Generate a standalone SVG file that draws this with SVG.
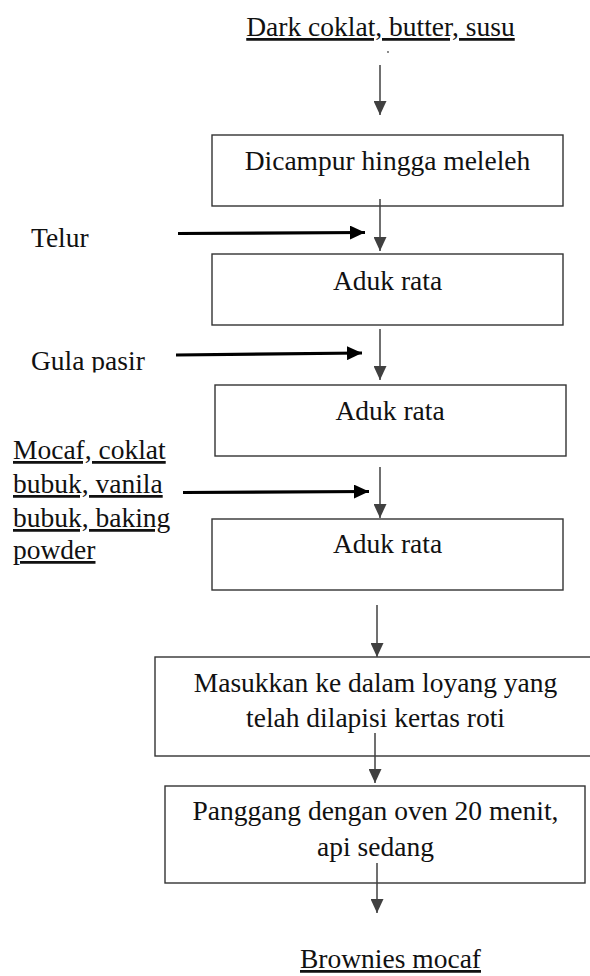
<svg xmlns="http://www.w3.org/2000/svg" width="590" height="976" viewBox="0 0 590 976" font-family="'Liberation Serif', 'DejaVu Serif', serif">
<style>
text{font-family:'Liberation Serif','Times New Roman','DejaVu Serif',serif;font-size:27.5px;fill:#111}
.c{text-anchor:middle}
.u{text-decoration:underline}
.box{fill:#fff;stroke:#333;stroke-width:1.4}
.thin{stroke:#404040;stroke-width:1.5;fill:none;marker-end:url(#ah)}
.thick{stroke:#000;stroke-width:3.2;fill:none;marker-end:url(#ahk)}
</style>
<defs>
<marker id="ah" markerUnits="userSpaceOnUse" markerWidth="14" markerHeight="13" refX="14" refY="6.5" orient="auto" viewBox="0 0 14 13"><path d="M0,0 L14,6.5 L0,13 z" fill="#404040"/></marker>
<marker id="ahk" markerUnits="userSpaceOnUse" markerWidth="15" markerHeight="14" refX="15" refY="7" orient="auto" viewBox="0 0 15 14"><path d="M0,0 L15,7 L0,14 z" fill="#000"/></marker>
<clipPath id="gclip"><rect x="0" y="330" width="200" height="42.5"/></clipPath>
</defs>

<g id="labels">
<text id="t-input" class="c u" x="380.5" y="36">Dark coklat, butter, susu</text>
<circle cx="388" cy="52" r="0.9" fill="#555"/>
<text id="t-telur" x="31" y="247">Telur</text>
<text id="t-gula" x="31" y="370" clip-path="url(#gclip)">Gula pasir</text>
<g id="t-mocaf">
<text class="u" x="13" y="459">Mocaf, coklat</text>
<text class="u" x="13" y="493">bubuk, vanila</text>
<text class="u" x="13" y="527">bubuk, baking</text>
<text class="u" x="13" y="559">powder</text>
</g>
<text id="t-output" class="u" x="300" y="968">Brownies mocaf</text>
</g>

<g id="n1"><rect class="box" x="212" y="135" width="351" height="71"/><text class="c" x="387.5" y="170">Dicampur hingga meleleh</text></g>
<g id="n2"><rect class="box" x="212" y="254" width="351" height="71"/><text class="c" x="387.5" y="290">Aduk rata</text></g>
<g id="n3"><rect class="box" x="215" y="385" width="351" height="71"/><text class="c" x="390" y="420">Aduk rata</text></g>
<g id="n4"><rect class="box" x="212" y="519" width="351" height="71"/><text class="c" x="387.5" y="553">Aduk rata</text></g>
<g id="n5"><rect class="box" x="155" y="657" width="445" height="99"/><text class="c" x="375.5" y="692">Masukkan ke dalam loyang yang</text><text class="c" x="375.5" y="727">telah dilapisi kertas roti</text></g>
<g id="n6"><rect class="box" x="165" y="786" width="420" height="97"/><text class="c" x="375.5" y="820">Panggang dengan oven 20 menit,</text><text class="c" x="375.5" y="856">api sedang</text></g>

<g id="connectors">
<line class="thin" x1="380" y1="65" x2="380" y2="115"/>
<line class="thin" x1="380" y1="199" x2="380" y2="251"/>
<line class="thin" x1="380" y1="329" x2="380" y2="380"/>
<line class="thin" x1="380" y1="467" x2="380" y2="518"/>
<line class="thin" x1="377" y1="605" x2="377" y2="657"/>
<line class="thin" x1="375" y1="733" x2="375" y2="783"/>
<line class="thin" x1="377" y1="863" x2="377" y2="913"/>
<line class="thick" x1="178" y1="233.5" x2="365" y2="232.5"/>
<line class="thick" x1="176" y1="355" x2="362" y2="353"/>
<line class="thick" x1="183" y1="492.5" x2="369" y2="491.5"/>
</g>
</svg>
